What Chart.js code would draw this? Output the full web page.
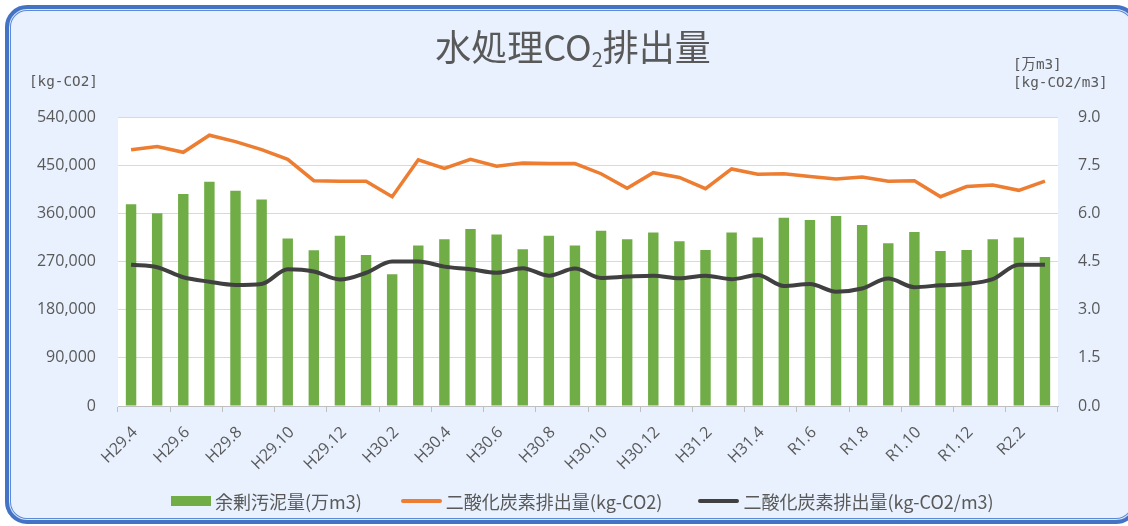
<!DOCTYPE html>
<html lang="ja">
<head>
<meta charset="utf-8">
<script src="https://cdn.jsdelivr.net/npm/chart.js@4/dist/chart.umd.min.js"></script>
<style>
  html, body { margin: 0; padding: 0; background: #fff; }
  #wrap { position: relative; width: 1128px; height: 526px; overflow: hidden; }
  #frame {
    position: absolute; left: 5px; top: 5px; width: 1133px; height: 519px;
    box-sizing: border-box; border: 4px solid #4472C4; border-radius: 22px;
    background: #E8F1FD;
    box-shadow: inset 0 0 0 1px #DCE8FA, inset 0 0 0 2px #5B8BD6;
  }
  #chart { position: absolute; left: 0; top: 0; }
  .txt { position: absolute; color: #595959; font-family: "Noto Sans CJK JP", sans-serif; white-space: nowrap; }
  #title { left: 0; width: 1146px; top: 25px; text-align: center; font-size: 36px; line-height: 40px; }
  #title sub { font-size: 20px; vertical-align: -6px; line-height: 0; }
  .unit { font-family: "DejaVu Sans Mono", "Noto Sans CJK JP", monospace; font-size: 14.3px; line-height: 18px; }
  #legend { position: absolute; left: 171px; top: 488px; display: flex; align-items: center;
    font-family: "Noto Sans CJK JP", sans-serif; font-size: 18px; color: #595959; }
  #legend .item { display: flex; align-items: center; }
  #legend .sw { margin-right: 4px; }
</style>
</head>
<body>
<div id="wrap">
  <div id="frame"></div>
  <canvas id="chart" width="1128" height="526"></canvas>
  <div id="title" class="txt">水処理CO<sub>2</sub>排出量</div>
  <div class="txt unit" style="left:29px; top:72px;">[kg-CO2]</div>
  <div class="txt unit" style="left:1013px; top:55px;">[万m3]</div>
  <div class="txt unit" style="left:1013px; top:73px;">[kg-CO2/m3]</div>
  <div id="legend"></div>
</div>
<script>
const months = ['H29.4', 'H29.5', 'H29.6', 'H29.7', 'H29.8', 'H29.9', 'H29.10', 'H29.11', 'H29.12',
    'H30.1', 'H30.2', 'H30.3', 'H30.4', 'H30.5', 'H30.6', 'H30.7', 'H30.8', 'H30.9', 'H30.10', 'H30.11', 'H30.12',
    'H31.1', 'H31.2', 'H31.3', 'H31.4', 'R1.5', 'R1.6', 'R1.7', 'R1.8', 'R1.9', 'R1.10', 'R1.11', 'R1.12',
    'R2.1', 'R2.2', 'R2.3'];

// 余剰汚泥量 (万m3)
const sludge = [6.28, 6.00, 6.60, 6.98, 6.70, 6.43, 5.22, 4.85, 5.30, 4.70, 4.10, 5.00,
    5.19, 5.51, 5.34, 4.88, 5.30, 5.00, 5.46, 5.19, 5.40, 5.13, 4.86, 5.40,
    5.25, 5.86, 5.79, 5.92, 5.64, 5.07, 5.42, 4.83, 4.86, 5.19, 5.25, 4.64];

// 二酸化炭素排出量 (kg-CO2)
const co2 = [479000, 485000, 474000, 506000, 494000, 479000, 461000, 421000, 420000, 420000, 391000, 460000,
    444000, 461000, 448000, 454000, 453000, 453000, 434000, 407000, 436000, 427000, 406000, 443000,
    433000, 434000, 429000, 424000, 428000, 420000, 421000, 391000, 410000, 413000, 403000, 420000];

// 二酸化炭素排出量 (kg-CO2/m3)
const intensity = [4.40, 4.32, 4.01, 3.87, 3.77, 3.80, 4.26, 4.19, 3.94, 4.15, 4.50, 4.50,
    4.34, 4.26, 4.15, 4.29, 4.06, 4.28, 3.99, 4.03, 4.06, 3.98, 4.06, 3.95,
    4.08, 3.74, 3.80, 3.56, 3.66, 3.97, 3.70, 3.76, 3.80, 3.95, 4.40, 4.40];

const leftTicks = { min: 0, max: 540000, step: 90000 };
const rightTicks = { min: 0, max: 9, step: 1.5 };

const tickFont = { family: 'Open Sans', size: 16 };
const tickColor = '#595959';

// white plot area
const plotBg = {
    id: 'plotBg',
    beforeDraw(chart) {
        const { ctx, chartArea: a } = chart;
        ctx.save();
        ctx.fillStyle = '#fff';
        ctx.fillRect(a.left, a.top, a.right - a.left, a.bottom - a.top);
        ctx.restore();
    }
};

const chart = new Chart(document.getElementById('chart').getContext('2d'), {
    type: 'bar',
    data: {
        labels: months,
        datasets: [
            { type: 'line', label: '二酸化炭素排出量(kg-CO2/m3)', data: intensity, yAxisID: 'y1', order: 1,
              borderColor: '#404040', backgroundColor: '#404040', borderWidth: 4,
              tension: 0.4, cubicInterpolationMode: 'monotone', pointRadius: 0 },
            { type: 'line', label: '二酸化炭素排出量(kg-CO2)', data: co2, yAxisID: 'y', order: 2,
              borderColor: '#ED7D31', backgroundColor: '#ED7D31', borderWidth: 3.5, tension: 0, pointRadius: 0 },
            { type: 'bar', label: '余剰汚泥量(万m3)', data: sludge, yAxisID: 'y1', order: 3,
              backgroundColor: '#70AD47', barPercentage: 0.4, categoryPercentage: 1 }
        ]
    },
    options: {
        responsive: false,
        animation: false,
        layout: { padding: { top: 117, left: 0, right: 0, bottom: 0 } },
        plugins: { legend: { display: false }, tooltip: { enabled: false }, title: { display: false } },
        scales: {
            x: {
                offset: true,
                grid: {
                    offset: true, drawOnChartArea: false, drawTicks: true, tickLength: 6,
                    color: c => (c.index === undefined || c.index % 2 === 0) ? '#BFBFBF' : 'rgba(0,0,0,0)'
                },
                border: { color: '#BFBFBF' },
                ticks: {
                    autoSkip: false, maxRotation: 45, minRotation: 45, color: tickColor, font: tickFont,
                    padding: 11, labelOffset: 4,
                    callback: (v, i) => i % 2 === 0 ? months[i] : ''
                },
                afterFit: s => { s.height = 120; }
            },
            y: {
                position: 'left',
                min: leftTicks.min, max: leftTicks.max,
                ticks: { stepSize: leftTicks.step, color: tickColor, font: tickFont, padding: 22,
                         callback: v => v.toLocaleString('en-US') },
                grid: { color: '#D9D9D9', drawTicks: false },
                border: { display: false },
                afterFit: s => { s.width = 118; }
            },
            y1: {
                position: 'right',
                min: rightTicks.min, max: rightTicks.max,
                ticks: { stepSize: rightTicks.step, color: tickColor, font: tickFont, padding: 20,
                         callback: v => v.toFixed(1) },
                grid: { drawOnChartArea: false, drawTicks: false },
                border: { display: false },
                afterFit: s => { s.width = 70; }
            }
        }
    },
    plugins: [plotBg]
});

// legend in bar, orange, black order
const legend = document.getElementById('legend');
const gaps = [39, 36, 0];
[2, 1, 0].forEach((i, k) => {
    const ds = chart.data.datasets[i];
    const item = document.createElement('div');
    item.className = 'item';
    item.style.marginRight = gaps[k] + 'px';
    const sw = document.createElement('span');
    sw.className = 'sw';
    sw.style.display = 'inline-block';
    sw.style.width = ds.type === 'bar' ? '40px' : '41px';
    sw.style.height = ds.type === 'bar' ? '10px' : '3.5px';
    sw.style.background = ds.type === 'bar' ? ds.backgroundColor : ds.borderColor;
    if (ds.type !== 'bar') sw.style.borderRadius = '2px';
    const lab = document.createElement('span');
    lab.textContent = ds.label;
    item.appendChild(sw);
    item.appendChild(lab);
    legend.appendChild(item);
});
</script>
</body>
</html>
